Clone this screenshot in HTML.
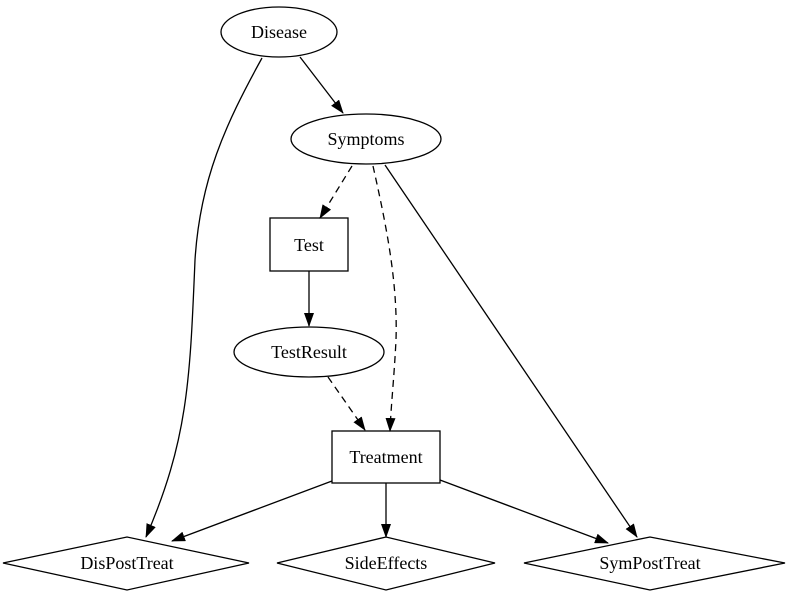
<!DOCTYPE html>
<html><head><meta charset="utf-8"><style>html,body{margin:0;padding:0;background:#fff}</style></head>
<body>
<svg width="789" height="593" viewBox="0 0 789 593" xmlns="http://www.w3.org/2000/svg" font-family="Liberation Serif, serif" font-size="18">
<defs><marker id="a" markerWidth="14" markerHeight="10" refX="13" refY="5" orient="auto" markerUnits="userSpaceOnUse"><path d="M0,0 L14,5 L0,10 z" fill="#000"/></marker></defs>
<g fill="none" stroke="#000" stroke-width="1.3">
<ellipse cx="279" cy="32" rx="58" ry="25"/>
<ellipse cx="366" cy="139" rx="75" ry="25"/>
<rect x="270" y="218" width="78" height="53"/>
<ellipse cx="309" cy="352" rx="75" ry="25"/>
<rect x="332" y="431" width="108" height="52"/>
<polygon points="3,563 127,537 249,563 127,590"/>
<polygon points="277,563 386,537 495,563 386,590"/>
<polygon points="524,563 650,537 785,563 650,590"/>
<path d="M300,57 L343,113" marker-end="url(#a)"/>
<path d="M262,58 C225,125 200,180 195,260 C190,380 188,440 146,537" marker-end="url(#a)"/>
<path d="M352,166 L320,218" stroke-dasharray="7,5" marker-end="url(#a)"/>
<path d="M373,166 C385,220 398,280 396,340 C394,380 391,405 390,431" stroke-dasharray="7,5" marker-end="url(#a)"/>
<path d="M385,165 L637,537" marker-end="url(#a)"/>
<path d="M309,271 L309,326" marker-end="url(#a)"/>
<path d="M328,377 L365,430" stroke-dasharray="7,5" marker-end="url(#a)"/>
<path d="M332,481 L172,541" marker-end="url(#a)"/>
<path d="M386,483 L386,537" marker-end="url(#a)"/>
<path d="M440,480 L608,543" marker-end="url(#a)"/>
</g>
<g text-anchor="middle" fill="#000">
<text x="279" y="38">Disease</text>
<text x="366" y="145">Symptoms</text>
<text x="309" y="251">Test</text>
<text x="309" y="358">TestResult</text>
<text x="386" y="463">Treatment</text>
<text x="127" y="569">DisPostTreat</text>
<text x="386" y="569">SideEffects</text>
<text x="650" y="569">SymPostTreat</text>
</g>
</svg>
</body></html>
